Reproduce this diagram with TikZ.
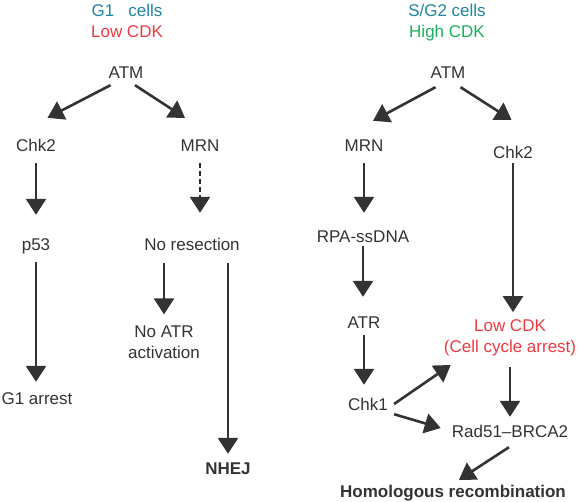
\documentclass[tikz,border=0pt]{standalone}
\usepackage{fontspec}
\setmainfont{Liberation Sans}
\usetikzlibrary{arrows.meta}
\definecolor{ink}{HTML}{333333}
\definecolor{cellteal}{HTML}{1F86A0}
\definecolor{cdkred}{HTML}{EE3A3F}
\definecolor{cdkgreen}{HTML}{19B05A}
\tikzset{
  txt/.style={font=\fontsize{17}{21}\selectfont, text=ink, inner sep=0pt},
  lbl/.style={txt, text height=12pt, text depth=0pt},
  two/.style={txt, align=center},
  arr/.style={draw=ink, line width=2.6pt, -{Triangle[length=16pt,width=20pt]}},
}
\begin{document}
\begin{tikzpicture}[x=1pt,y=-1pt]
\useasboundingbox (0,0) rectangle (580,501);
% G1 cells
\node[lbl, text=cellteal] (g1) at (127,10) {G1~~~cells};
\node[lbl, text=cdkred] (lowL) at (127,31) {Low CDK};
\node[lbl] (atmL) at (126,72) {ATM};
\node[lbl] (chk2L) at (36,145) {Chk2};
\node[lbl] (mrnL) at (200,145) {MRN};
\node[lbl] (p53L) at (36,244) {p53};
\node[lbl] (noRes) at (192,244) {No resection};
\node[two] (noATR) at (164,342) {No ATR\\activation};
\node[lbl] (g1arr) at (37,398) {G1 arrest};
\node[lbl, font=\fontsize{17}{21}\selectfont\bfseries] (nhej) at (228,468) {NHEJ};
% S/G2 cells
\node[lbl, text=cellteal] (sg2) at (447,10) {S/G2 cells};
\node[lbl, text=cdkgreen] (highR) at (447,31) {High CDK};
\node[lbl] (atmR) at (448,72) {ATM};
\node[lbl] (mrnR) at (364,145) {MRN};
\node[lbl] (chk2R) at (513,152) {Chk2};
\node[lbl] (rpa) at (363,236) {RPA-ssDNA};
\node[lbl] (atr) at (364,322) {ATR};
\node[lbl] (chk1) at (368,404) {Chk1};
\node[two, text=cdkred] (lowcdk) at (510,338) {Low CDK\\(Cell cycle arrest)};
\node[lbl] (rad51) at (510,431) {Rad51--BRCA2};
\node[lbl, font=\fontsize{17}{21}\selectfont\bfseries] (hr) at (453,491) {Homologous recombination};
% Arrows, G1
\draw[arr] ([shift={(2,7)}]atmL.south west) -- ([shift={(11.5,-21)}]chk2L.north);
\draw[arr] ([shift={(9,7)}]atmL.south) -- ([shift={(-15,-21)}]mrnL.north);
\draw[arr, shorten <=12pt, shorten >=23pt] (chk2L.south) -- (chk2L.south |- p53L.north);
\draw[arr, dash pattern=on 5pt off 3pt, shorten <=12pt, shorten >=25pt] (mrnL.south) -- (mrnL.south |- noRes.north);
\draw[arr, shorten <=12pt, shorten >=10pt] (p53L.south) -- (p53L.south |- g1arr.north);
\draw[arr, shorten <=13pt, shorten >=11pt] (noRes.south -| noATR.north) -- (noATR.north);
\draw[arr, shorten <=13pt, shorten >=8pt] (noRes.south -| nhej.north) -- (nhej.north);
% Arrows, S/G2
\draw[arr] ([shift={(5,9)}]atmR.south west) -- ([shift={(9,-18)}]mrnR.north);
\draw[arr] ([shift={(-5,9)}]atmR.south east) -- ([shift={(-1.5,-26)}]chk2R.north);
\draw[arr, shorten <=12pt, shorten >=17pt] (mrnR.south) -- (mrnR.south |- rpa.north);
\draw[arr, shorten <=4pt, shorten >=19pt] (rpa.south) -- (rpa.south |- atr.north);
\draw[arr, shorten <=7pt, shorten >=13pt] (atr.south) -- (atr.south |- chk1.north);
\draw[arr, shorten <=5pt, shorten >=7.5pt] (chk2R.south) -- (chk2R.south |- lowcdk.north);
\draw[arr, shorten <=10.5pt, shorten >=8pt] (lowcdk.south) -- (lowcdk.south |- rad51.north);
\draw[arr] ([shift={(6,0)}]chk1.east) -- ([shift={(7,8.6)}]lowcdk.south west);
\draw[arr] ([shift={(6,4)}]chk1.south east) -- ([shift={(-11,-3)}]rad51.west);
\draw[arr] ([shift={(-1,10)}]rad51.south) -- ([shift={(6,-5)}]hr.north);
\end{tikzpicture}
\end{document}
